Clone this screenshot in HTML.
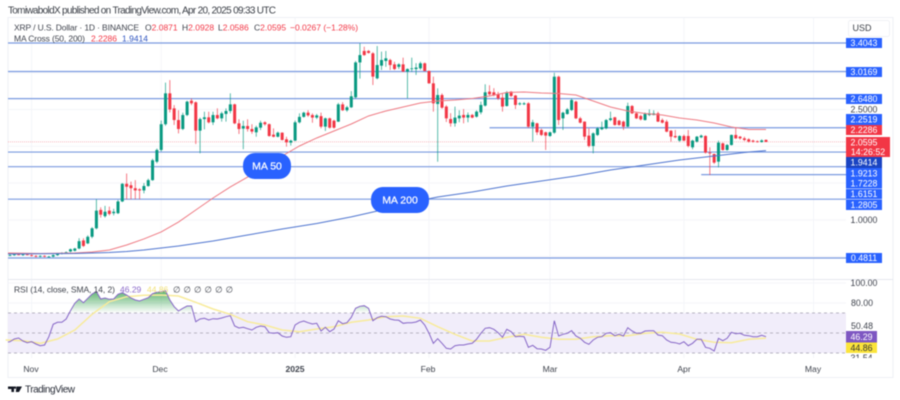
<!DOCTYPE html>
<html lang="en">
<head>
<meta charset="utf-8">
<title>XRP / U.S. Dollar chart</title>
<style>
html,body{margin:0;padding:0;background:#fff;width:900px;height:400px;overflow:hidden}
svg{display:block;filter:blur(0.45px)}
text{font-family:"Liberation Sans",sans-serif}
.leg{font-size:8.5px;fill:#3f434d}
.ax{font-size:8.6px;fill:#3f434d;text-anchor:middle}
.lb{font-size:8.8px;fill:#fff;text-anchor:middle}
.tk{font-size:8.8px;fill:#3f434d;text-anchor:middle}
.red{fill:#f23645}
</style>
</head>
<body>
<svg id="chart" xmlns="http://www.w3.org/2000/svg" width="900" height="400" viewBox="0 0 900 400">
  <defs>
    <linearGradient id="rsiGreen" gradientUnits="userSpaceOnUse" x1="0" y1="290" x2="0" y2="313">
      <stop offset="0" stop-color="#2e9e45" stop-opacity="0.8"/>
      <stop offset="1" stop-color="#2e9e45" stop-opacity="0"/>
    </linearGradient>
    <clipPath id="plotClip"><rect x="8" y="18" width="838" height="340"/></clipPath>
    <clipPath id="overClip"><rect x="8" y="280" width="838" height="33"/></clipPath>
    <clipPath id="rsiAxisClip"><rect x="846" y="280" width="46" height="78"/></clipPath>
  </defs>

  <text x="8" y="13.5" font-size="10" fill="#3c4048" textLength="268" lengthAdjust="spacing">TomiwaboldX published on TradingView.com, Apr 20, 2025 09:33 UTC</text>

  <rect x="8" y="17.5" width="885" height="360" fill="none" stroke="#eef0f5"/>
  <g id="grid" stroke="#f4f5f9" stroke-width="1"></g>
  <line x1="8" x2="893" y1="279.5" y2="279.5" stroke="#e6e8ef"/>

  <g id="levels"></g>
  <g id="pricePlot" clip-path="url(#plotClip)"></g>

  <g>
    <rect x="243" y="153" width="48" height="26" rx="12" fill="#2962ff"/>
    <text x="267" y="169.500" font-size="10.500" stroke="#fff" stroke-width="0.2" fill="#fff" text-anchor="middle">MA 50</text>
  </g>
  <g>
    <rect x="371" y="187" width="58" height="26" rx="12" fill="#2962ff"/>
    <text x="400" y="203.500" font-size="10.500" stroke="#fff" stroke-width="0.2" fill="#fff" text-anchor="middle">MA 200</text>
  </g>

  <g>
    <text class="leg" x="14" y="30.500" textLength="125" lengthAdjust="spacing">XRP / U.S. Dollar · 1D · BINANCE</text>
    <text class="leg" x="145" y="30.500">O<tspan class="red">2.0871</tspan></text>
    <text class="leg" x="182" y="30.500">H<tspan class="red">2.0928</tspan></text>
    <text class="leg" x="218" y="30.500">L<tspan class="red">2.0586</tspan></text>
    <text class="leg" x="254" y="30.500">C<tspan class="red">2.0595</tspan></text>
    <text class="leg red" x="290" y="30.500">−0.0267 (−1.28%)</text>
    <text class="leg" x="14" y="41.500" textLength="71" lengthAdjust="spacing">MA Cross (50, 200)</text>
    <text class="leg red" x="91" y="41.500">2.2286</text>
    <text class="leg" x="122" y="41.500" style="fill:#2f55c0">1.9414</text>
  </g>

  <g>
    <rect id="rsiBand" x="8" y="313" width="838" height="40" fill="#f1edfa"/>
    <g id="rsiGuides"></g>
    <g id="rsiPlot"></g>
    <text class="leg" x="14" y="292.500" textLength="101" lengthAdjust="spacing">RSI (14, close, SMA, 14, 2)</text>
    <text class="leg" x="120" y="292.500" style="fill:#8a68c9">46.29</text>
    <text class="leg" x="147" y="292.500" style="fill:#f2e27a">44.86</text>
    <text class="leg" x="173" y="292.500" textLength="60" lengthAdjust="spacing">∅ ∅ ∅ ∅ ∅ ∅</text>
  </g>

  <g>
    <rect x="848.500" y="20.500" width="41" height="16" rx="2" fill="#fff" stroke="#f0f1f5"/>
    <text x="862" y="31" font-size="9" fill="#3c4048" text-anchor="middle">USD</text>
  </g>

  <g>
    <rect x="846" y="38" width="36" height="10" fill="#2962ff"/><text class="lb" x="864" y="46">3.4043</text>
    <rect x="846" y="67" width="36" height="10" fill="#2962ff"/><text class="lb" x="864" y="75">3.0169</text>
    <rect x="846" y="94" width="36" height="10" fill="#2962ff"/><text class="lb" x="864" y="102">2.6480</text>
    <text class="tk" x="864" y="112.500">2.5000</text>
    <rect x="846" y="114" width="36" height="11" fill="#2962ff"/><text class="lb" x="864" y="122.500">2.2519</text>
    <rect x="846" y="125" width="36" height="10" fill="#f23645"/><text class="lb" x="864" y="133">2.2286</text>
    <rect x="846" y="137" width="44" height="20" fill="#f23645"/><text class="lb" x="864" y="145.500">2.0595</text><text class="lb" x="868" y="155" font-size="8">14:26:52</text>
    <rect x="846" y="157" width="36" height="11" fill="#1a44c2"/><text class="lb" x="864" y="165.500">1.9414</text>
    <rect x="846" y="168" width="36" height="10.500" fill="#2962ff"/><text class="lb" x="864" y="176.500">1.9213</text>
    <rect x="846" y="178.500" width="36" height="10" fill="#2962ff"/><text class="lb" x="864" y="186.500">1.7228</text>
    <rect x="846" y="189" width="36" height="10" fill="#2962ff"/><text class="lb" x="864" y="197">1.6151</text>
    <rect x="846" y="199.500" width="36" height="10.500" fill="#2962ff"/><text class="lb" x="864" y="208">1.2805</text>
    <text class="tk" x="864" y="223">1.0000</text>
    <rect x="846" y="253" width="36" height="10" fill="#2962ff"/><text class="lb" x="864" y="261">0.4811</text>
  </g>

  <g>
    <text class="tk" x="864" y="286">100.00</text>
    <text class="tk" x="862" y="306">80.00</text>
    <text class="tk" x="862" y="329">50.48</text>
    <rect x="846" y="331" width="31" height="11.500" fill="#7e57c2"/><text class="lb" x="861.500" y="339.800">46.29</text>
    <rect x="846" y="342.500" width="31" height="10.500" fill="#fbe43b"/><text x="861.500" y="351" font-size="8.800" fill="#333" text-anchor="middle">44.86</text>
    <text class="tk" x="861.500" y="361" clip-path="url(#rsiAxisClip)">31.54</text>
  </g>

  <g>
    <text class="ax" x="31" y="372">Nov</text>
    <text class="ax" x="160" y="372">Dec</text>
    <text class="ax" x="295" y="372" font-weight="700">2025</text>
    <text class="ax" x="428" y="372">Feb</text>
    <text class="ax" x="550" y="372">Mar</text>
    <text class="ax" x="684" y="372">Apr</text>
    <text class="ax" x="813" y="372">May</text>
  </g>

  <g>
    <path d="M8 386.500h6v5.500h-2.600v-3H8zM16.500 386.500h5.500l-3 5.500h-3.200z M15 388.800a1.200 1.200 0 1 1 0.010 0z" fill="#131722"/>
    <text x="25" y="392.500" font-size="10" fill="#2a2e39" textLength="50" lengthAdjust="spacing">TradingView</text>
  </g>
</svg>

<script>
// ---------- chart data ----------
const opens = [.53,.52,.52,.53,.52,.53,.52,.51,.50,.51,.50,.50,.52,.54,.55,.57,.58,.61,.72,.68,.77,.885,1.135,1.05,1.125,1.09,1.09,1.25,1.49,1.47,1.43,1.415,1.40,1.46,1.54,1.79,1.95,2.30,2.72,2.516,2.357,2.235,2.425,2.62,2.598,2.213,2.37,2.394,2.326,2.425,2.38,2.44,2.48,2.57,2.312,2.24,2.276,2.235,2.19,2.253,2.326,2.30,2.158,2.13,2.185,2.095,2.05,2.077,2.326,2.40,2.457,2.425,2.39,2.41,2.267,2.38,2.348,2.335,2.57,2.49,2.53,2.666,3.14,3.296,3.296,3.264,2.924,3.096,3.16,3.173,3.114,3.08,3.114,3.015,3.05,3.05,3.06,3.128,3.024,2.856,2.575,2.697,2.54,2.371,2.312,2.38,2.426,2.39,2.426,2.403,2.462,2.553,2.743,2.734,2.707,2.661,2.548,2.743,2.69,2.571,2.571,2.584,2.267,2.312,2.222,2.19,2.14,2.185,2.946,2.38,2.439,2.493,2.607,2.38,2.335,2.145,2.004,2.154,2.231,2.244,2.357,2.394,2.348,2.335,2.267,2.548,2.448,2.412,2.357,2.425,2.425,2.448,2.357,2.335,2.212,2.14,2.077,2.14,2.14,1.986,2.063,2.122,2.14,1.914,1.895,1.791,2.04,1.95,2.018,2.154,2.131,2.108,2.095,2.077,2.068,2.058,2.0871];
const highs = [.54,.53,.53,.54,.53,.54,.53,.52,.52,.52,.51,.53,.55,.56,.57,.61,.62,.75,.75,.79,.90,1.28,1.17,1.19,1.18,1.15,1.27,1.50,1.63,1.52,1.54,1.43,1.50,1.56,1.83,1.97,2.35,2.865,2.90,2.56,2.49,2.457,2.62,2.65,2.61,2.39,2.47,2.47,2.47,2.516,2.47,2.516,2.72,2.58,2.367,2.348,2.367,2.30,2.28,2.348,2.34,2.31,2.244,2.20,2.19,2.13,2.09,2.35,2.448,2.47,2.49,2.448,2.44,2.457,2.39,2.39,2.36,2.59,2.60,2.55,2.75,3.16,3.40,3.354,3.31,3.28,3.363,3.287,3.296,3.19,3.15,3.13,3.205,3.06,3.205,3.13,3.15,3.14,3.03,2.947,2.788,2.72,2.56,2.45,2.54,2.49,2.507,2.46,2.44,2.49,2.607,2.843,2.83,2.79,2.74,2.72,2.75,2.75,2.70,2.60,2.60,2.60,2.36,2.32,2.24,2.20,2.20,3.0,2.96,2.47,2.52,2.65,2.62,2.40,2.34,2.244,2.19,2.26,2.335,2.37,2.471,2.40,2.36,2.35,2.593,2.56,2.46,2.43,2.46,2.502,2.49,2.47,2.38,2.36,2.22,2.222,2.15,2.16,2.222,2.09,2.14,2.16,2.15,1.986,1.90,2.077,2.05,2.03,2.16,2.258,2.14,2.13,2.11,2.09,2.08,2.095,2.0928];
const lows = [.50,.51,.51,.52,.51,.52,.50,.49,.49,.49,.49,.49,.51,.53,.54,.56,.57,.60,.63,.67,.75,.87,1.03,1.03,1.06,1.06,1.08,1.24,1.28,1.28,1.28,1.28,1.36,1.45,1.53,1.77,1.93,2.28,2.46,2.29,2.176,2.22,2.41,2.56,2.03,1.905,2.23,2.31,2.29,2.367,2.335,2.335,2.448,2.30,2.167,1.96,2.20,2.17,2.13,2.22,2.28,2.13,2.122,2.122,2.08,1.995,2.01,2.07,2.31,2.39,2.40,2.32,2.37,2.244,2.208,2.24,2.24,2.33,2.48,2.47,2.52,2.65,2.92,3.23,3.26,2.833,2.91,3.037,3.08,3.037,3.037,3.05,3.01,2.652,3.01,2.97,3.04,3.02,2.85,2.471,1.79,2.51,2.33,2.267,2.267,2.327,2.312,2.327,2.38,2.39,2.435,2.54,2.69,2.68,2.63,2.471,2.54,2.67,2.507,2.555,2.56,2.25,2.063,2.154,2.14,1.95,2.13,2.17,2.29,2.222,2.43,2.48,2.37,2.31,2.086,1.986,1.904,2.14,2.22,2.23,2.34,2.28,2.28,2.222,2.26,2.44,2.37,2.35,2.35,2.41,2.42,2.33,2.31,2.19,2.063,2.11,2.06,2.07,1.986,1.959,2.05,2.11,1.90,1.61,1.76,1.714,1.94,1.94,2.01,2.10,2.09,2.07,2.05,2.05,2.05,2.05,2.0586];
const closes = [.52,.52,.53,.52,.53,.52,.51,.50,.51,.50,.50,.52,.54,.55,.56,.60,.61,.71,.645,.77,.885,1.125,1.07,1.11,1.08,1.11,1.25,1.49,1.45,1.43,1.40,1.40,1.46,1.54,1.81,1.95,2.30,2.72,2.50,2.357,2.235,2.425,2.607,2.584,2.213,2.37,2.394,2.326,2.425,2.38,2.448,2.48,2.57,2.312,2.235,2.276,2.235,2.20,2.258,2.32,2.30,2.14,2.13,2.185,2.086,2.054,2.077,2.326,2.40,2.457,2.42,2.39,2.42,2.267,2.38,2.253,2.253,2.57,2.49,2.53,2.68,3.14,3.24,3.24,3.27,2.947,3.105,3.173,3.196,3.105,3.05,3.114,3.015,3.05,3.06,3.07,3.128,3.024,2.856,2.584,2.697,2.525,2.38,2.312,2.39,2.417,2.39,2.426,2.39,2.471,2.562,2.734,2.707,2.697,2.652,2.54,2.734,2.684,2.562,2.584,2.584,2.267,2.326,2.19,2.154,2.145,2.19,2.946,2.357,2.457,2.502,2.629,2.38,2.321,2.131,2.004,2.176,2.244,2.258,2.357,2.38,2.29,2.29,2.267,2.548,2.448,2.38,2.366,2.439,2.448,2.448,2.335,2.321,2.199,2.131,2.122,2.14,2.077,2.004,2.077,2.131,2.145,1.914,1.904,1.778,2.05,1.95,2.018,2.154,2.108,2.108,2.086,2.063,2.063,2.058,2.08,2.0595];

const ma50Days = [0,8,16,20,24,28,32,36,40,44,48,52,56,60,64,68,72,76,80,84,88,92,96,100,104,108,112,116,120,124,128,132,136,140,144,148,152,156,160,164,168,172,176];
const ma50Values = [.549,.542,.549,.563,.59,.658,.74,.835,.97,1.134,1.297,1.447,1.582,1.718,1.868,2.004,2.113,2.208,2.303,2.412,2.48,2.534,2.589,2.616,2.629,2.65,2.684,2.731,2.738,2.725,2.718,2.697,2.616,2.534,2.48,2.446,2.425,2.385,2.357,2.317,2.262,2.228,2.2286];
const ma200Days = [0,16,24,28,32,36,40,44,48,56,64,72,80,84,88,92,96,100,108,116,124,132,140,148,156,164,172,176];
const ma200Values = [.536,.542,.556,.57,.59,.617,.644,.678,.712,.794,.875,.95,1.04,1.093,1.147,1.2,1.263,1.31,1.379,1.46,1.528,1.596,1.677,1.746,1.814,1.868,1.922,1.9414];

const fullLevels = [3.4043,3.0169,2.6480,1.9213,1.7228,1.2805,0.4811];
const partialLevels = [2.2519];
const partialLevelStart = [112];
const shortLevels = [1.6151];
const shortLevelStart = [161];

const rsiValues = [40.7,41.3,44,45,42,40.3,41.3,39,37.3,38,46.3,58.7,60.7,60.7,64,72.3,79.7,84,80.3,84.7,89,91.3,84,85,83.7,84,88.7,90.3,88,85,83,82,83.7,85.3,89.3,90.7,91.3,92.3,83,76.3,72,74.7,77,77,61.3,64,64.7,63,64.3,64,65,66.3,67.3,57,55,55.7,54.3,53,55.7,57,56.3,50.3,49.7,50.3,47,45.7,46.3,58,60.7,62,60.3,59,59.7,52,55.7,51.3,54,62.3,59.3,60.3,65.7,74.7,76.7,77.3,74.7,62.3,65.3,66.7,66.3,64,63,62.7,59.7,60.3,60.3,61,63,58,49.7,39.7,44.3,39.7,34.7,34,37.3,38,38,39,39.7,43.7,49.7,54.7,55.3,53.7,50.3,45.7,53.7,51.3,46.3,46.7,46.3,35.7,37.7,34.3,34,32.7,35.7,62.3,47,48.7,49.7,52.3,47,44.7,40.7,38.7,43,45.7,46.3,49.7,50.3,47.3,48.7,47,55.3,52,49.7,49.7,52,52.3,52.3,48,47.3,43,40.7,40.3,39,41.3,37.3,39.7,43.7,43.7,35.7,34.7,32,44.7,42.3,44.7,50.7,49.3,49.7,47.7,47.3,46.3,46.3,47.7,46.29];
const rsiSmaDays = [0,4,8,12,16,20,24,28,32,36,40,44,48,52,56,60,64,68,72,76,80,84,88,92,96,100,104,108,112,116,120,124,128,132,136,140,144,148,152,156,160,164,168,172,176];
const rsiSmaValues = [43,42.3,39.7,44,53,68.7,81.3,86.3,87.7,88,87,80.7,74,68.7,61.3,58,53,51.3,54,56.3,60.7,63,66.3,67,64.7,56.3,48.7,42,42,45.7,48.7,45.7,43.7,43.7,46.3,47.3,47.3,49.7,50.7,49,43.7,40.7,40.3,43.7,44.86];

const rsiGuideValues = [70,50,30];
const priceGridTicks = [3.0,2.5,2.0,1.5,1.0,0.5];
const rsiGridTicks = [100,80,60,40];
const monthDays = [6,36,67,98,126,157,187];

// ---------- axis functions ----------
const xDay = d => 5.68 + 4.32 * d;
const yPrice = p => 43 + (3.4043 - p) * 73.55;
const yRsi = r => 333 + (50 - r);

const NS = 'http://www.w3.org/2000/svg';
function mk(tag, parent, attrs) {
  const el = document.createElementNS(NS, tag);
  for (const k in attrs) el.setAttribute(k, attrs[k]);
  parent.appendChild(el);
  return el;
}
function polyPts(days, values, yf) {
  return days.map((d, i) => xDay(d).toFixed(2) + ',' + yf(values[i]).toFixed(2)).join(' ');
}

// ---------- grid ----------
const grid = document.getElementById('grid');
monthDays.forEach(d => {
  const l = mk('line', grid, {x1: xDay(d), x2: xDay(d), y1: 18, y2: 358});
  
  
});
priceGridTicks.forEach(p => {
  const l = mk('line', grid, {x1: 8, x2: 846, y1: yPrice(p), y2: yPrice(p)});
  
  
});
rsiGridTicks.forEach(r => {
  const l = mk('line', grid, {x1: 8, x2: 846, y1: yRsi(r), y2: yRsi(r)});
  
  
});

// ---------- horizontal levels ----------
const levels = document.getElementById('levels');
const LEVEL = {stroke: '#7a9ae0', 'stroke-width': 1.2};
fullLevels.forEach(p => {
  const l = mk('line', levels, Object.assign({x1: 8, x2: 846, y1: yPrice(p), y2: yPrice(p)}, LEVEL));
  
  
});
partialLevels.forEach((p, i) => {
  const l = mk('line', levels, Object.assign({x1: xDay(partialLevelStart[i]), x2: 846, y1: yPrice(p), y2: yPrice(p)}, LEVEL));
  
  
});
shortLevels.forEach((p, i) => {
  const l = mk('line', levels, Object.assign({x1: xDay(shortLevelStart[i]), x2: 846, y1: yPrice(p), y2: yPrice(p)}, LEVEL));
  
  
});
const last = closes[closes.length - 1];
const priceLine = mk('line', levels, {x1: 8, x2: 846, y1: yPrice(last), y2: yPrice(last), stroke: '#f7b6bc', 'stroke-width': 1, 'stroke-dasharray': '1 1'});



// ---------- candles ----------
const plot = document.getElementById('pricePlot');
closes.forEach((c, i) => {
  const o = opens[i], col = c >= o ? '#089981' : '#f23645';
  const g = mk('g', plot, {});
  
  
  const x = xDay(i);
  mk('line', g, {x1: x, x2: x, y1: yPrice(highs[i]), y2: yPrice(lows[i]), stroke: col, 'stroke-width': 0.9, 'stroke-opacity': 0.75});
  const top = yPrice(Math.max(o, c)), bot = yPrice(Math.min(o, c));
  mk('rect', g, {x: x - 1.5, y: top, width: 3, height: Math.max(bot - top, 0.8), fill: col});
});

// ---------- moving averages ----------
const ma50 = mk('polyline', plot, {points: polyPts(ma50Days, ma50Values, yPrice), fill: 'none', stroke: '#ee7a83', 'stroke-width': 1});


const ma200 = mk('polyline', plot, {points: polyPts(ma200Days, ma200Values, yPrice), fill: 'none', stroke: '#4e74cf', 'stroke-width': 1});



// ---------- RSI ----------
const guides = document.getElementById('rsiGuides');
rsiGuideValues.forEach(r => {
  const l = mk('line', guides, {x1: 8, x2: 846, y1: yRsi(r), y2: yRsi(r), stroke: '#b5b2c0', 'stroke-width': 1, 'stroke-dasharray': '3 3'});
  
  
});
const rsiPlot = document.getElementById('rsiPlot');
const rsiDays = rsiValues.map((_, i) => i);
const areaPts = xDay(0) + ',' + yRsi(70) + ' ' + polyPts(rsiDays, rsiValues, yRsi) + ' ' + xDay(rsiValues.length - 1) + ',' + yRsi(70);
const over = mk('polygon', rsiPlot, {points: areaPts, fill: 'url(#rsiGreen)', 'clip-path': 'url(#overClip)'});


const sma = mk('polyline', rsiPlot, {points: polyPts(rsiSmaDays, rsiSmaValues, yRsi), fill: 'none', stroke: '#f8eb9a', 'stroke-width': 1.5});


const rsi = mk('polyline', rsiPlot, {points: polyPts(rsiDays, rsiValues, yRsi), fill: 'none', stroke: '#8565c6', 'stroke-width': 1, 'clip-path': 'url(#plotClip)'});


</script>
</body>
</html>
